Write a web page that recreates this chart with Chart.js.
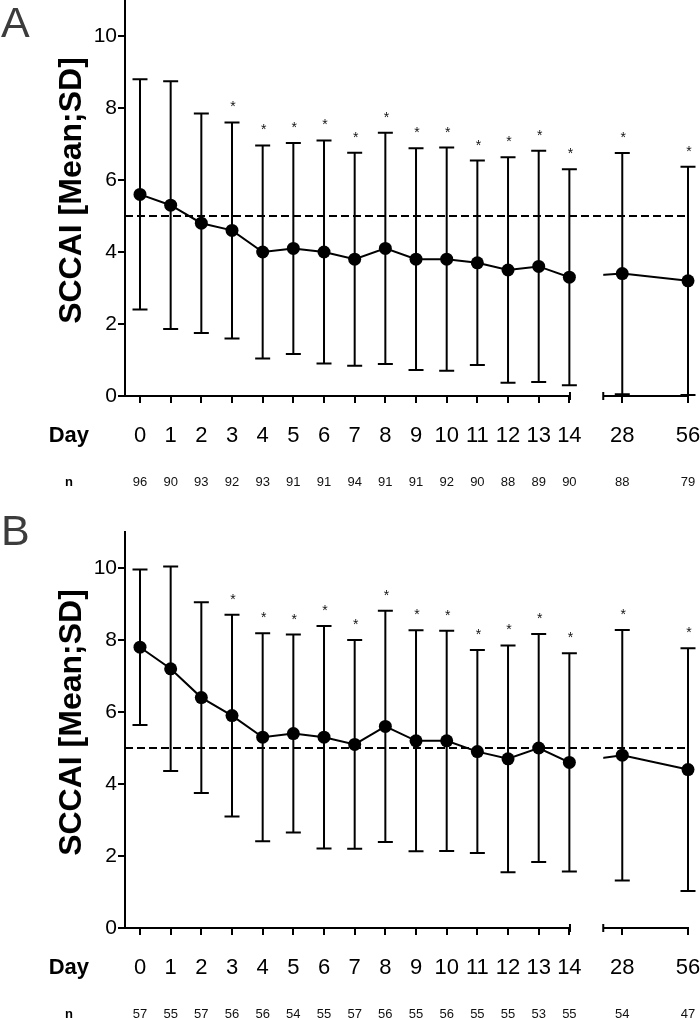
<!DOCTYPE html>
<html><head><meta charset="utf-8">
<script src="https://cdn.jsdelivr.net/npm/chart.js@4.4.1/dist/chart.umd.min.js"></script>
<style>
html,body{margin:0;padding:0;background:#fff;}
#wrap{position:relative;width:700px;height:1018px;overflow:hidden;}
.panel{position:absolute;left:0;width:700px;height:509px;}
canvas{display:block;}
</style></head><body>
<div id="wrap">
<div class="panel" style="top:0"><canvas id="cA" width="700" height="509"></canvas></div>
<div class="panel" style="top:509px"><canvas id="cB" width="700" height="509"></canvas></div>
</div>
<script>
// ---- data ----
const days = [0,1,2,3,4,5,6,7,8,9,10,11,12,13,14,28,56];
const dayLabels = days.map(String);
const meanA = [5.6,5.3,4.8,4.6,4.0,4.1,4.0,3.8,4.1,3.8,3.8,3.7,3.5,3.6,3.3,3.4,3.2];
const sdA   = [3.2,3.44,3.05,3.0,2.96,2.93,3.1,2.96,3.21,3.08,3.1,2.84,3.13,3.21,3.0,3.35,3.17];
const nA    = [96,90,93,92,93,91,91,94,91,91,92,90,88,89,90,88,79];
const sigA  = [false,false,false,true,true,true,true,true,true,true,true,true,true,true,true,true,true];
const meanB = [7.8,7.2,6.4,5.9,5.3,5.4,5.3,5.1,5.6,5.2,5.2,4.9,4.7,5.0,4.6,4.8,4.4];
const sdB   = [2.16,2.84,2.65,2.8,2.89,2.75,3.09,2.9,3.21,3.07,3.06,2.82,3.15,3.17,3.03,3.48,3.37];
const nB    = [57,55,57,56,56,54,55,57,56,55,56,55,55,53,55,54,47];
const sigB  = [false,false,false,true,true,true,true,true,true,true,true,true,true,true,true,true,true];
const threshold = 5;
const yTicks = [0,2,4,6,8,10];
const yTitle = 'SCCAI [Mean;SD]';

// ---- broken x axis transform (days 0-14 linear, then compressed) ----
function axisPos(d){ return d <= 14 ? d : 14 + 0.6535 + (d - 14) * 0.07654; }
const X_MIN = -0.489, X_MAX = axisPos(56);
const GAP_START = 14.02, GAP_END = 15.105;

Chart.defaults.font.family = '"Liberation Sans", Arial, Helvetica, sans-serif';
Chart.defaults.color = '#000';

function makeChart(id, mean, sd, n, sig, letter, topPad, letterBase){
  const H = 509;
  const pts = days.map((d,i)=>({x: axisPos(d), y: mean[i]}));
  const panelPlugin = {
    id: 'panel_' + id,
    beforeDatasetsDraw(chart){
      const {ctx} = chart, xs = chart.scales.x, ys = chart.scales.y;
      ctx.save();
      ctx.strokeStyle = '#000'; ctx.lineWidth = 2;
      days.forEach((d,i)=>{
        const x = xs.getPixelForValue(axisPos(d));
        const yt = ys.getPixelForValue(mean[i] + sd[i]);
        const yb = ys.getPixelForValue(mean[i] - sd[i]);
        ctx.beginPath();
        ctx.moveTo(x, yt); ctx.lineTo(x, yb);
        ctx.moveTo(x - 7.5, yt); ctx.lineTo(x + 7.5, yt);
        ctx.moveTo(x - 7.5, yb); ctx.lineTo(x + 7.5, yb);
        ctx.stroke();
        if (sig[i]) {
          ctx.fillStyle = '#111';
          ctx.font = '14px "Liberation Sans", Arial, sans-serif';
          ctx.textAlign = 'center'; ctx.textBaseline = 'alphabetic';
          ctx.fillText('*', x + 1, yt - 11);
        }
      });
      ctx.restore();
    },
    beforeDatasetDraw(chart, args){
      if (args.index !== 0) return;
      const ctx = chart.ctx, xs = chart.scales.x;
      const g1 = xs.getPixelForValue(GAP_START), g2 = xs.getPixelForValue(GAP_END);
      ctx.save();
      ctx.beginPath();
      ctx.rect(0, 0, g1, chart.height);
      ctx.rect(g2, 0, chart.width - g2, chart.height);
      ctx.clip();
    },
    afterDatasetDraw(chart, args){
      if (args.index === 0) chart.ctx.restore();
    },
    afterDraw(chart){
      const {ctx, chartArea} = chart, xs = chart.scales.x, xn = chart.scales.xn;
      const yb = chartArea.bottom;
      const x1 = chartArea.left - 1, x2 = xs.getPixelForValue(GAP_START),
            x3 = xs.getPixelForValue(GAP_END), x4 = xs.getPixelForValue(X_MAX) + 1;
      ctx.save();
      ctx.strokeStyle = '#000'; ctx.lineWidth = 2;
      ctx.beginPath();
      ctx.moveTo(x1, yb); ctx.lineTo(x2, yb);
      ctx.moveTo(x2, yb - 4); ctx.lineTo(x2, yb + 4);
      ctx.moveTo(x3, yb); ctx.lineTo(x4, yb);
      ctx.moveTo(x3, yb - 4); ctx.lineTo(x3, yb + 4);
      ctx.stroke();
      // row labels
      const dayY = xs.top + 7 + 20 + 22 * 1.2 / 2;
      const nY = xn.top + 19 + 13 * 1.2 / 2;
      ctx.fillStyle = '#000';
      ctx.textBaseline = 'middle';
      ctx.font = 'bold 22px "Liberation Sans", Arial, sans-serif';
      ctx.textAlign = 'right';
      ctx.fillText('Day', 89, dayY);
      ctx.font = 'bold 13px "Liberation Sans", Arial, sans-serif';
      ctx.textAlign = 'center';
      ctx.fillText('n', 69, nY);
      // y title
      ctx.save();
      ctx.translate(72, (chartArea.top + chartArea.bottom) / 2 - 7.5);
      ctx.rotate(-Math.PI / 2);
      ctx.font = 'bold 32px "Liberation Sans", Arial, sans-serif';
      ctx.textAlign = 'center'; ctx.textBaseline = 'middle';
      ctx.fillText(yTitle, 0, 0);
      ctx.restore();
      // panel letter
      ctx.fillStyle = '#3c3c3c';
      ctx.font = '43px "Liberation Sans", Arial, sans-serif';
      ctx.textAlign = 'left'; ctx.textBaseline = 'alphabetic';
      ctx.fillText(letter, 1, letterBase);
      ctx.restore();
    }
  };
  const nH = H - topPad - 396 - 60;
  return new Chart(document.getElementById(id), {
    type: 'line',
    data: {
      datasets: [
        { data: pts, borderColor: '#000', borderWidth: 2, pointRadius: 0, fill: false, clip: false, tension: 0 },
        { data: pts, showLine: false, pointRadius: 6.5, pointHoverRadius: 6.5, pointBackgroundColor: '#000', pointBorderColor: '#000', pointBorderWidth: 0, clip: false },
        { data: [{x: X_MIN, y: threshold}, {x: X_MAX, y: threshold}], borderColor: '#000', borderWidth: 2, borderDash: [8, 4], pointRadius: 0, fill: false, clip: false }
      ]
    },
    options: {
      responsive: false, animation: false,
      events: [],
      layout: { autoPadding: false, padding: { left: 0, right: 12, top: topPad, bottom: 0 } },
      plugins: { legend: { display: false }, tooltip: { enabled: false } },
      scales: {
        x: {
          type: 'linear', position: 'bottom', min: X_MIN, max: X_MAX, weight: 0,
          afterBuildTicks: s => { s.ticks = days.map(d => ({ value: axisPos(d) })); },
          afterFit: s => { s.height = 60; s.paddingLeft = 0; s.paddingRight = 0; },
          ticks: { autoSkip: false, maxRotation: 0, minRotation: 0, padding: 20, color: '#000',
                   font: { size: 22 }, callback: (v, i) => dayLabels[i] },
          grid: { display: true, drawOnChartArea: false, drawTicks: true, tickLength: 7, color: '#000', lineWidth: 2 },
          border: { display: false }
        },
        xn: {
          type: 'linear', position: 'bottom', min: X_MIN, max: X_MAX, weight: 1,
          afterBuildTicks: s => { s.ticks = days.map(d => ({ value: axisPos(d) })); },
          afterFit: s => { s.height = nH; s.paddingLeft = 0; s.paddingRight = 0; },
          ticks: { autoSkip: false, maxRotation: 0, minRotation: 0, padding: 19, color: '#111',
                   font: { size: 13 }, callback: (v, i) => String(n[i]) },
          grid: { display: false, drawTicks: false },
          border: { display: false }
        },
        y: {
          type: 'linear', position: 'left', min: 0, max: 11,
          afterBuildTicks: s => { s.ticks = yTicks.map(v => ({ value: v })); },
          afterFit: s => { s.width = 125; s.paddingTop = 0; s.paddingBottom = 0; },
          ticks: { padding: 1, color: '#000', font: { size: 21 } },
          grid: { display: true, drawOnChartArea: false, drawTicks: true, tickLength: 7, color: '#000', lineWidth: 2 },
          border: { display: true, color: '#000', width: 2 }
        }
      }
    },
    plugins: [panelPlugin]
  });
}

makeChart('cA', meanA, sdA, nA, sigA, 'A', 0, 37);
makeChart('cB', meanB, sdB, nB, sigB, 'B', 23, 36);
</script>
</body></html>
